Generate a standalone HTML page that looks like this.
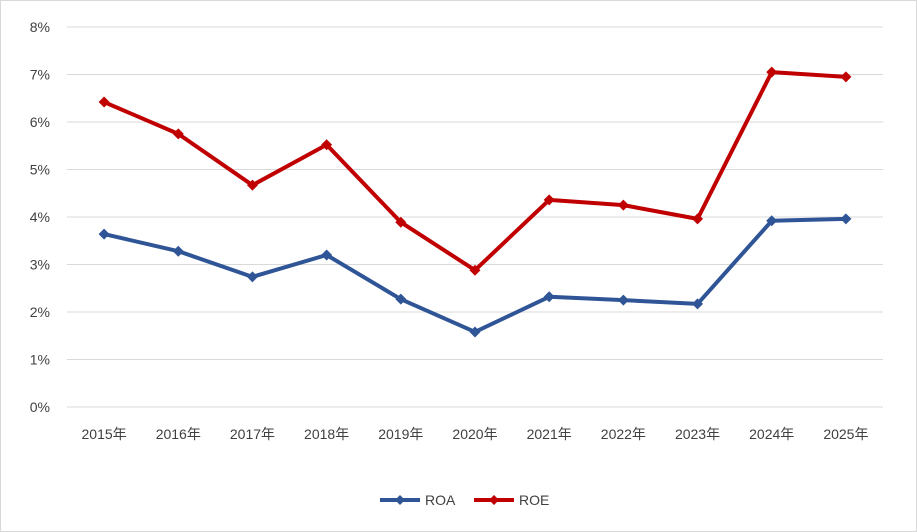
<!DOCTYPE html>
<html><head><meta charset="utf-8"><style>
html,body{margin:0;padding:0;background:#fff;}
svg{display:block;font-family:"Liberation Sans","Noto Sans CJK SC",sans-serif;}
</style></head><body>
<svg id="chart" width="917" height="532">
<rect x="0.5" y="0.5" width="916" height="531" fill="#fff" stroke="#d9d9d9"/>
<g id="grid"></g>
<g id="ylab"></g>
<g id="xlab"></g>
<g id="series"></g>
<g id="legend"></g>
</svg>
<script>
const categories=["2015年","2016年","2017年","2018年","2019年","2020年","2021年","2022年","2023年","2024年","2025年"];
const roa=[3.64,3.28,2.74,3.2,2.27,1.58,2.32,2.25,2.17,3.92,3.96];
const roe=[6.42,5.75,4.67,5.52,3.89,2.88,4.36,4.25,3.96,7.05,6.95];
const yTicks=[0,1,2,3,4,5,6,7,8];
const yTickLabels=["0%","1%","2%","3%","4%","5%","6%","7%","8%"];
const NS="http://www.w3.org/2000/svg";
const x0=67,x1=883,y0=407,y1=27;
function xPos(i){const step=(x1-x0)/categories.length;return x0+step*(i+0.5);}
function yPos(v){return y0-(v/8)*(y0-y1);}
function mk(tag,attrs,parent){const e=document.createElementNS(NS,tag);for(const k in attrs)e.setAttribute(k,attrs[k]);parent.appendChild(e);return e;}
const grid=document.getElementById('grid'),ylab=document.getElementById('ylab'),xlab=document.getElementById('xlab'),ser=document.getElementById('series'),leg=document.getElementById('legend');
yTicks.forEach((t,i)=>{
  const l=mk('line',{x1:x0,x2:x1,y1:yPos(t),y2:yPos(t),stroke:'#d9d9d9','stroke-width':1},grid);
  
  
  const tx=mk('text',{x:50,y:yPos(t)+5,'text-anchor':'end','font-size':14,fill:'#404040'},ylab);
  tx.textContent=yTickLabels[i];
  
  
});
categories.forEach((c,i)=>{
  const tx=mk('text',{x:xPos(i),y:439,'text-anchor':'middle','font-size':14,fill:'#404040'},xlab);
  tx.textContent=c;
  
  
});
function diamond(cx,cy,r,color,parent){
  const d=mk('polygon',{points:`${cx},${cy-r} ${cx+r},${cy} ${cx},${cy+r} ${cx-r},${cy}`,fill:color},parent);
  return d;
}
function drawSeries(vals,color,name){
  const g=mk('g',{},ser);
  
  
  const pl=mk('polyline',{points:vals.map((v,i)=>xPos(i)+','+yPos(v)).join(' '),fill:'none',stroke:color,'stroke-width':4,'stroke-linejoin':'round'},g);
  
  
  vals.forEach((v,i)=>{
    const d=diamond(xPos(i),yPos(v),5.5,color,g);
    
    
  });
}
drawSeries(roa,'#2f5597','roa');
drawSeries(roe,'#c00000','roe');
function legendEntry(x,color,label,name){
  const g=mk('g',{},leg);
  
  
  mk('line',{x1:x,x2:x+40,y1:500,y2:500,stroke:color,'stroke-width':4},g);
  diamond(x+20,500,5,color,g);
  const t=mk('text',{x:x+45,y:505,'font-size':14,fill:'#404040'},g);
  t.textContent=label;
}
legendEntry(380,'#2f5597','ROA','roa');
legendEntry(474,'#c00000','ROE','roe');
</script>
</body></html>
